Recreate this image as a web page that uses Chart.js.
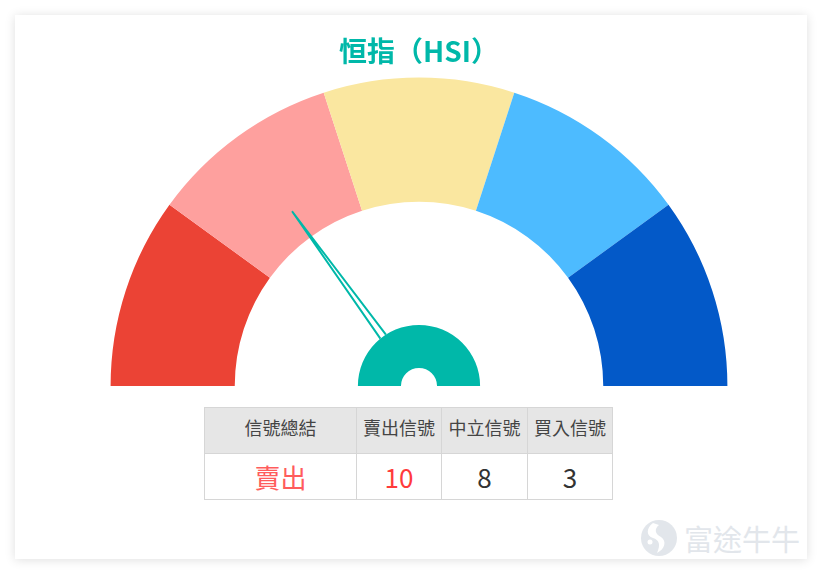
<!DOCTYPE html>
<html>
<head>
<meta charset="utf-8">
<script src="https://cdn.jsdelivr.net/npm/chart.js@4"></script>
<style>
  html, body { margin: 0; padding: 0; background: #fff; }
  body { width: 822px; height: 574px; position: relative; overflow: hidden; font-family: "Noto Sans CJK TC", "Noto Sans", sans-serif; }
  .card { position: absolute; left: 15px; top: 15px; width: 792px; height: 544px; background: #fff; box-shadow: 0 1px 10px rgba(0,0,0,0.13); }
  #gauge { position: absolute; left: 0; top: 0; }
  table.signals { position: absolute; left: 189px; top: 392px; border-collapse: collapse; table-layout: fixed; }
  table.signals td, table.signals th { border: 1px solid #d6d6d6; text-align: center; padding: 0; height: 45px; }
  table.signals th { background: #e6e6e6; font-weight: normal; font-size: 18px; color: #444; padding-bottom: 7px; height: 38px; }
  table.signals td { font-size: 26px; color: #333; }
  .watermark { position: absolute; left: 625px; top: 502px; display: flex; align-items: center; color: #e2e6eb; font-size: 29px; }
  .watermark svg { margin-right: 6px; }
</style>
</head>
<body>
<div class="card">
  <canvas id="gauge" width="792" height="380"></canvas>
  <table class="signals" id="signalTable"></table>
  <div class="watermark">
    <svg width="38" height="38" viewBox="0 0 38 38">
      <circle cx="19" cy="19" r="18" fill="#e2e6eb"/>
      <path d="M13 4 C6 9 6 17 13 19 C19 21 21 25 17 34 C25 30 27 22 21 18 C15 15 14 10 19 6 Z" fill="#fff"/>
      <circle cx="10" cy="23" r="2.5" fill="#fff"/>
    </svg>
    <span>富途牛牛</span>
  </div>
</div>

<script>
// gauge zones (equal parts, left = sell, right = buy)
const zoneValues = [1, 1, 1, 1, 1];
const zoneColors = ["#eb4335", "#fea09e", "#fae7a0", "#4dbbff", "#0359c8"];
const needleValue = 30; // 0 - 100, left to right

// signal summary table
const tableHeaders = ["信號總結", "賣出信號", "中立信號", "買入信號"];
const signalCounts = [10, 8, 3];
const signalColors = ["#ff3b3b", "#333", "#333"];
const summaryText = "賣出";
const summaryColor = "#ff5c5c";

const TEAL = "#00b8a9";

/* ================= TABLE ================= */

function renderTable() {
    const table = document.getElementById("signalTable");
    const widths = [152, 85, 86, 85];
    let head = "<tr>";
    tableHeaders.forEach((h, i) => {
        head += `<th style="width:${widths[i] - 1}px">${h}</th>`;
    });
    head += "</tr>";
    let body = `<tr><td style="color:${summaryColor}">${summaryText}</td>`;
    signalCounts.forEach((v, i) => {
        body += `<td style="color:${signalColors[i]}">${v}</td>`;
    });
    body += "</tr>";
    table.innerHTML = head + body;
}

/* ================= NEEDLE ================= */

const needlePlugin = {
    id: "needle",
    afterDatasetsDraw(chart) {
        const arc = chart.getDatasetMeta(0).data[0];
        const cx = arc.x, cy = arc.y;
        const hubArc = chart.getDatasetMeta(2).data[0];
        const baseR = hubArc.outerRadius;
        const tipR = 216;
        const angle = Math.PI + (needleValue / 100) * Math.PI;
        const spread = 0.056;
        const ctx = chart.ctx;
        ctx.save();
        ctx.strokeStyle = TEAL;
        ctx.lineWidth = 2;
        ctx.beginPath();
        ctx.moveTo(cx + baseR * Math.cos(angle - spread), cy + baseR * Math.sin(angle - spread));
        ctx.lineTo(cx + tipR * Math.cos(angle), cy + tipR * Math.sin(angle));
        ctx.lineTo(cx + baseR * Math.cos(angle + spread), cy + baseR * Math.sin(angle + spread));
        ctx.stroke();
        ctx.restore();
    }
};

/* ================= CHART ================= */

function renderGauge() {
    new Chart(document.getElementById("gauge"), {
        type: "doughnut",
        data: {
            labels: ["強烈賣出", "賣出", "中立", "買入", "強烈買入"],
            datasets: [
                { data: zoneValues, backgroundColor: zoneColors, borderWidth: 0, weight: 124 },
                { data: [1], backgroundColor: "rgba(0,0,0,0)", borderWidth: 0, weight: 123 },
                { data: [1], backgroundColor: TEAL, borderWidth: 0, weight: 43 }
            ]
        },
        options: {
            responsive: false,
            animation: false,
            events: [],
            rotation: -90,
            circumference: 180,
            cutout: "5.85%", // hub hole
            layout: { padding: { left: 16, right: 0, top: 0, bottom: 9 } },
            plugins: {
                legend: { display: false },
                tooltip: { enabled: false },
                title: {
                    display: true,
                    text: "恒指（HSI）",
                    color: TEAL,
                    font: { size: 28, weight: "bold", family: "'Noto Sans CJK TC', sans-serif", lineHeight: 1.2 },
                    padding: { top: 20, bottom: 9 }
                }
            }
        },
        plugins: [needlePlugin]
    });
}

renderTable();
renderGauge();
</script>
</body>
</html>
